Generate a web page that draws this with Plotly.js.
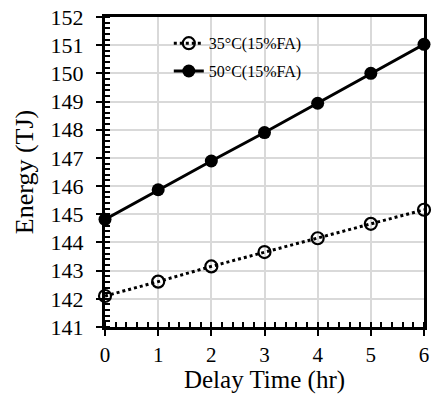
<!DOCTYPE html>
<html>
<head>
<meta charset="utf-8">
<script src="https://cdn.plot.ly/plotly-3.0.1.min.js"></script>
<style>html,body{margin:0;padding:0;background:#fff;}#chart{width:434px;height:394px;}</style>
</head>
<body>
<div id="chart"></div>
<script>
const delayTime = [0, 1, 2, 3, 4, 5, 6];
const energy35 = [142.1, 142.61, 143.15, 143.66, 144.15, 144.66, 145.16];
const energy50 = [144.82, 145.87, 146.89, 147.9, 148.94, 150.0, 151.03];
const seriesNames = ["35°C(15%FA)", "50°C(15%FA)"];
const yTicks = [141, 142, 143, 144, 145, 146, 147, 148, 149, 150, 151, 152];
const xTicks = [0, 1, 2, 3, 4, 5, 6];

const font = "Liberation Serif, Times New Roman, serif";

const traces = [
  {
    x: delayTime, y: energy35, name: seriesNames[0], type: "scatter", mode: "lines+markers",
    legendgroup: "g35",
    line: {color: "#000", width: 3, dash: "dot"},
    marker: {symbol: "circle-open", size: 12, color: "#000", line: {width: 2.2, color: "#000"}},
    cliponaxis: false
  },
  {
    x: delayTime, y: energy50, name: seriesNames[1], type: "scatter", mode: "lines+markers",
    legendgroup: "g50",
    line: {color: "#000", width: 3},
    marker: {symbol: "circle", size: 13, color: "#000"},
    cliponaxis: false
  }
];

const layout = {
  width: 434, height: 394,
  margin: {l: 105, r: 10, t: 17, b: 67},
  paper_bgcolor: "#fff", plot_bgcolor: "#fff",
  font: {family: font, color: "#000"},
  showlegend: true,
  legend: {
    x: 0.2, y: 0.97, xanchor: "left", yanchor: "top",
    bgcolor: "rgba(0,0,0,0)", font: {family: font, size: 16, color: "#000"},
    traceorder: "grouped", tracegroupgap: 4
  },
  xaxis: {
    range: [0, 6], tickvals: xTicks, ticktext: xTicks.map(String),
    showgrid: true, gridcolor: "#d9d9d9", gridwidth: 2,
    showline: true, linecolor: "#000", linewidth: 3, mirror: true,
    ticks: "outside", ticklen: 6, tickwidth: 2, tickcolor: "#000",
    minor: {dtick: 0.2, ticks: "inside", ticklen: 5, tickwidth: 2, tickcolor: "#000", showgrid: false},
    tickfont: {family: font, size: 21, color: "#000"},
    ticklabelstandoff: 1,
    zeroline: false,
    title: {text: "Delay Time (hr)", font: {family: font, size: 25, color: "#000"}, standoff: 0}
  },
  yaxis: {
    range: [141, 152], tickvals: yTicks, ticktext: yTicks.map(String),
    showgrid: true, gridcolor: "#d9d9d9", gridwidth: 2,
    showline: true, linecolor: "#000", linewidth: 3, mirror: true,
    ticks: "outside", ticklen: 6, tickwidth: 2, tickcolor: "#000",
    minor: {dtick: 0.2, ticks: "inside", ticklen: 5, tickwidth: 2, tickcolor: "#000", showgrid: false},
    tickfont: {family: font, size: 22, color: "#000"},
    ticklabelstandoff: 8,
    zeroline: false,
    title: {text: "Energy (TJ)", font: {family: font, size: 26, color: "#000"}, standoff: 10}
  }
};

Plotly.newPlot("chart", traces, layout, {displayModeBar: false, staticPlot: true});
</script>
</body>
</html>
